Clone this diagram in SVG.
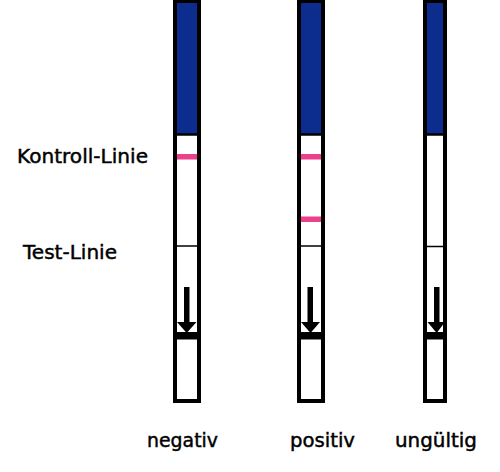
<svg xmlns="http://www.w3.org/2000/svg" width="500" height="472" viewBox="0 0 500 472">
<style>
.blue{fill:#0c2d8e}
.frame{fill:none;stroke:#000;stroke-width:4}
.pink{fill:#ec3f8c}
.thin{stroke:#000;stroke-width:1.5}
.sep{stroke:#000;stroke-width:2.5}
.bar{fill:#000}
text{font-family:"DejaVu Sans",sans-serif;font-size:19.5px;fill:#000;stroke:#000;stroke-width:0.45}
</style>
<rect width="500" height="472" fill="#fff"/>
<g id="strip-negativ">
<rect class="blue" x="175" y="0" width="24" height="134"/>
<line class="sep" x1="175" y1="134.5" x2="199" y2="134.5"/>
<rect class="pink" x="177" y="154" width="20" height="5.5"/>
<line class="thin" x1="175" y1="246" x2="199" y2="246"/>
<rect class="bar" x="175" y="332" width="24" height="7.5"/>
<rect class="bar" x="184" y="287" width="5.5" height="36"/>
<polygon class="bar" points="177,322 196.5,322 186.7,333"/>
<rect class="frame" x="175" y="1" width="24" height="400"/>
</g>
<g id="strip-positiv">
<rect class="blue" x="299" y="0" width="24" height="134"/>
<line class="sep" x1="299" y1="134.5" x2="323" y2="134.5"/>
<rect class="pink" x="301" y="154" width="20" height="5.5"/>
<rect class="pink" x="301" y="216.5" width="20" height="5.5"/>
<line class="thin" x1="299" y1="246" x2="323" y2="246"/>
<rect class="bar" x="299" y="332" width="24" height="7.5"/>
<rect class="bar" x="307.5" y="287" width="5.5" height="36"/>
<polygon class="bar" points="301,322 320,322 310.5,333"/>
<rect class="frame" x="299" y="1" width="24" height="400"/>
</g>
<g id="strip-ungueltig">
<rect class="blue" x="425" y="0" width="20" height="134"/>
<line class="sep" x1="425" y1="134.5" x2="445" y2="134.5"/>
<line class="thin" x1="425" y1="246.5" x2="445" y2="246.5"/>
<rect class="bar" x="425" y="332" width="20" height="7.5"/>
<rect class="bar" x="434" y="287" width="5.5" height="36"/>
<polygon class="bar" points="427.5,322 445,322 436.7,333"/>
<rect class="frame" x="425" y="1" width="20" height="400"/>
</g>
<g id="labels">
<text x="17" y="163" textLength="131" lengthAdjust="spacingAndGlyphs">Kontroll-Linie</text>
<text x="23" y="259" textLength="94" lengthAdjust="spacingAndGlyphs">Test-Linie</text>
<text x="147" y="447" textLength="71" lengthAdjust="spacingAndGlyphs">negativ</text>
<text x="290" y="447" textLength="65" lengthAdjust="spacingAndGlyphs">positiv</text>
<text x="395" y="447" textLength="82" lengthAdjust="spacingAndGlyphs">ungültig</text>
</g>
</svg>
